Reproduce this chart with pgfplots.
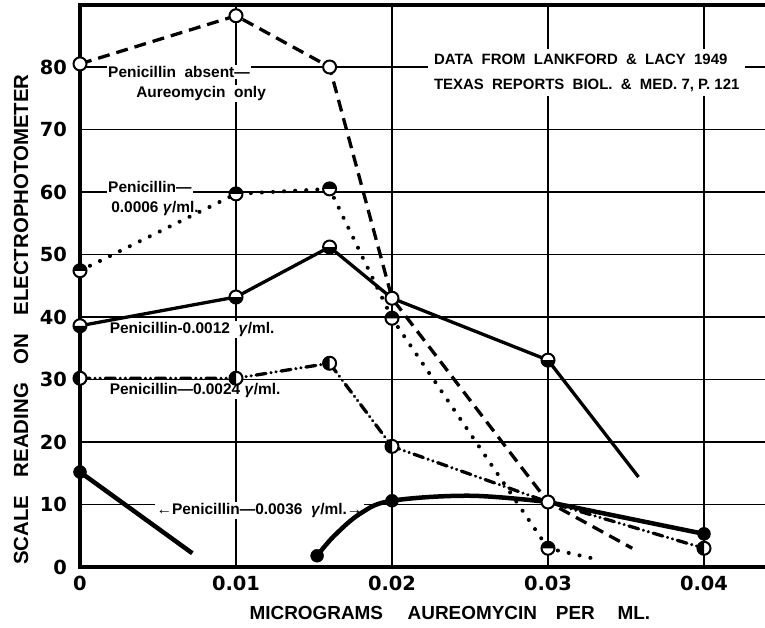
\documentclass[border=0pt]{standalone}
\usepackage{pgfplots}
\pgfplotsset{compat=1.18}
\usepackage{fontspec}
\setmainfont{Liberation Sans}
\newfontfamily\tickfont{DejaVu Sans}

\pgfdeclareplotmark{htop}{%
  \begin{pgfscope}\pgfsetfillcolor{white}\pgfpathcircle{\pgfpointorigin}{\pgfplotmarksize}\pgfusepathqfill\end{pgfscope}
  \begin{pgfscope}\pgfsetfillcolor{black}\pgfpathmoveto{\pgfqpoint{\pgfplotmarksize}{0pt}}\pgfpatharc{0}{180}{\pgfplotmarksize}\pgfpathclose\pgfusepathqfill\end{pgfscope}
  \pgfpathcircle{\pgfpointorigin}{\pgfplotmarksize}\pgfusepathqstroke}
\pgfdeclareplotmark{hbot}{%
  \begin{pgfscope}\pgfsetfillcolor{white}\pgfpathcircle{\pgfpointorigin}{\pgfplotmarksize}\pgfusepathqfill\end{pgfscope}
  \begin{pgfscope}\pgfsetfillcolor{black}\pgfpathmoveto{\pgfqpoint{-\pgfplotmarksize}{0pt}}\pgfpatharc{180}{360}{\pgfplotmarksize}\pgfpathclose\pgfusepathqfill\end{pgfscope}
  \pgfpathcircle{\pgfpointorigin}{\pgfplotmarksize}\pgfusepathqstroke}
\pgfdeclareplotmark{hleft}{%
  \begin{pgfscope}\pgfsetfillcolor{white}\pgfpathcircle{\pgfpointorigin}{\pgfplotmarksize}\pgfusepathqfill\end{pgfscope}
  \begin{pgfscope}\pgfsetfillcolor{black}\pgfpathmoveto{\pgfqpoint{0pt}{\pgfplotmarksize}}\pgfpatharc{90}{270}{\pgfplotmarksize}\pgfpathclose\pgfusepathqfill\end{pgfscope}
  \pgfpathcircle{\pgfpointorigin}{\pgfplotmarksize}\pgfusepathqstroke}
\pgfdeclareplotmark{opencirc}{%
  \begin{pgfscope}\pgfsetfillcolor{white}\pgfpathcircle{\pgfpointorigin}{\pgfplotmarksize}\pgfusepathqfill\end{pgfscope}
  \pgfpathcircle{\pgfpointorigin}{\pgfplotmarksize}\pgfusepathqstroke}

\begin{document}
\begin{tikzpicture}
\begin{axis}[
  at={(0,0)}, anchor=south west,
  scale only axis, width=685bp, height=562.5bp,
  xmin=0, xmax=0.04391, ymin=0, ymax=90,
  clip=false,
  axis line style={draw=none},
  xtick={0,0.01,0.02,0.03,0.04},
  xticklabels={0,0.01,0.02,0.03,0.04},
  ytick={0,10,...,80},
  yticklabels={0,10,20,30,40,50,60,70,80},
  scaled x ticks=false,
  major tick length=0pt,
  grid=major,
  major grid style={black, line width=1.6bp},
  tick label style={font=\tickfont\bfseries\fontsize{19.5}{19.5}\selectfont, /pgf/number format/assume math mode=true},
  yticklabel style={inner sep=0pt, xshift=-13bp},
  xticklabel style={inner sep=0pt, yshift=-9bp},
  xlabel={MICROGRAMS\hspace{1.3em}AUREOMYCIN\hspace{1em}PER\hspace{1.2em}ML.},
  xlabel style={font=\bfseries\fontsize{19}{19}\selectfont, at={(axis description cs:0.54,0)}, anchor=center, yshift=-46bp},
  ylabel={SCALE\hspace{0.9em}READING\hspace{0.9em}ON\hspace{0.9em}ELECTROPHOTOMETER},
  ylabel style={font=\bfseries\fontsize{20.5}{20.5}\selectfont, at={(axis description cs:-0.086,0.44)}, anchor=center, rotate=0},
]
% annotations (drawn before data so white boxes only break grid lines)
\begin{scope}[every node/.style={font=\bfseries\fontsize{15.5}{15.5}\selectfont, inner sep=1.5bp, fill=white}]
\node[anchor=west] at (axis cs:0.0017,79.2) {Penicillin\ \ absent—};
\node[anchor=west] at (axis cs:0.0035,75.8) {Aureomycin\ \ only};
\node[anchor=west] at (axis cs:0.0017,60.8) {Penicillin—};
\node[anchor=west] at (axis cs:0.0019,57.3) {0.0006 \textit{γ}/ml.};
\node[anchor=west] at (axis cs:0.0018,38.0) {Penicillin-0.0012\ \ \textit{γ}/ml.};
\node[anchor=west] at (axis cs:0.0018,28.2) {Penicillin—0.0024\ \textit{γ}/ml.};
\node[anchor=west] at (axis cs:0.0048,9.0) {←Penicillin—0.0036\ \ \textit{γ}/ml.→};
\end{scope}
\node[font=\bfseries\fontsize{15}{25}\selectfont, inner xsep=6bp, inner ysep=5bp, fill=white, align=left, anchor=west]
  at (axis cs:0.0223,79.1) {DATA\ \ FROM\ \ LANKFORD\ \ \&\ \ LACY\ \ 1949\\TEXAS\ \ REPORTS\ \ BIOL.\ \ \&\ \ MED.\ 7,\ P.\ 121};

% Penicillin absent - dashed
\addplot[black, line width=3.3bp, dash pattern=on 12bp off 7bp] coordinates {
(0,80.5) (0.01,88.2) (0.016,80.0) (0.02,43.0) (0.03,10.4) (0.0354,3.0)};
% 0.0006 - dotted
\addplot[black, line width=4bp, line cap=round, dash pattern=on 0.1bp off 11bp] coordinates {
(0,47.4) (0.01,59.7) (0.016,60.5) (0.02,39.8) (0.03,3.0) (0.033,1.3)};
% 0.0012 - solid
\addplot[black, line width=3.3bp] coordinates {
(0,38.6) (0.01,43.2) (0.016,51.2) (0.02,43.0) (0.03,33.1) (0.0358,14.4)};
% 0.0024 - dash dot dot
\addplot[black, line width=3.3bp, line cap=round, dash pattern=on 10bp off 5bp on 0.1bp off 5bp on 0.1bp off 5bp] coordinates {
(0,30.2) (0.01,30.2) (0.016,32.6) (0.02,19.3) (0.03,10.4) (0.04,3.0)};
% 0.0036 - heavy solid
\addplot[black, line width=4.5bp] coordinates {(0,15.2) (0.0072,2.2)};
\addplot[black, line width=4.5bp, smooth, tension=0.6] coordinates {
(0.0152,1.8) (0.0163,5.0) (0.018,8.6) (0.02,10.6) (0.025,11.4) (0.03,10.4)};
\addplot[black, line width=4.5bp] coordinates {(0.03,10.4) (0.04,5.3)};

% markers
\addplot[only marks, mark=*, mark size=6.5bp, black] coordinates {(0,15.2) (0.0152,1.8) (0.02,10.6) (0.04,5.3)};
\addplot[only marks, mark=hbot, mark size=6.5bp, black, mark options={line width=2bp}] coordinates {
(0,38.6) (0.01,43.2) (0.016,51.2) (0.03,33.1)};
\addplot[only marks, mark=hleft, mark size=6.5bp, black, mark options={line width=2bp}] coordinates {
(0,30.2) (0.01,30.2) (0.016,32.6) (0.02,19.3) (0.04,3.0)};
\addplot[only marks, mark=htop, mark size=6.5bp, black, mark options={line width=2bp}] coordinates {
(0,47.4) (0.01,59.7) (0.016,60.5) (0.02,39.8) (0.03,3.0)};
\addplot[only marks, mark=opencirc, mark size=6.5bp, black, mark options={line width=2bp}] coordinates {
(0,80.5) (0.01,88.2) (0.016,80.0) (0.02,43.0) (0.03,10.4)};

% frame: top, left, bottom (no right spine)
\draw[line width=4bp, line cap=rect] (rel axis cs:1,1) -- (rel axis cs:0,1) -- (rel axis cs:0,0) -- (rel axis cs:1,0);
\end{axis}
\pgfresetboundingbox
\path (-80bp,-61bp) rectangle (685bp,567bp);
\end{tikzpicture}
\end{document}
